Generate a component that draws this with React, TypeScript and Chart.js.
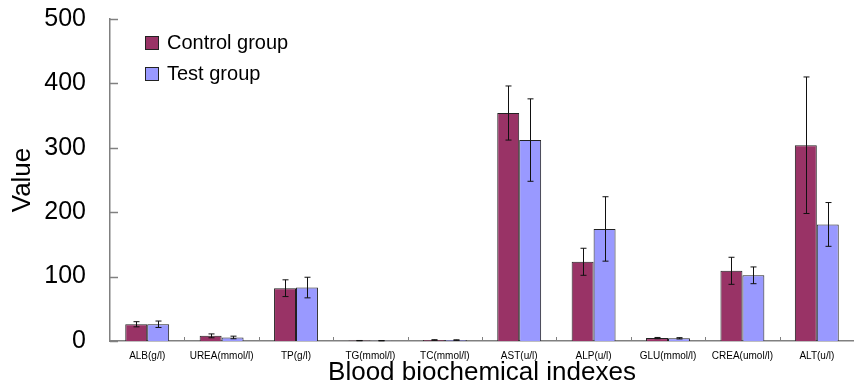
import React, { useEffect, useRef } from "react";
import { Chart, registerables } from "chart.js";

Chart.register(...registerables);

const categories = [
  "ALB(g/l)",
  "UREA(mmol/l)",
  "TP(g/l)",
  "TG(mmol/l)",
  "TC(mmol/l)",
  "AST(u/l)",
  "ALP(u/l)",
  "GLU(mmol/l)",
  "CREA(umol/l)",
  "ALT(u/l)",
];
const controlValues = [26, 8, 82, 0.6, 1.5, 354, 123, 4.5, 109, 304];
const controlErrors = [4, 3, 13, 0.2, 0.5, 42, 21, 1, 21, 106];
const testValues = [26, 5.5, 83, 0.5, 1.4, 312, 174, 4.2, 102, 181];
const testErrors = [5, 2, 16, 0.2, 0.4, 64, 50, 1, 13, 34];
const yTicks = [0, 100, 200, 300, 400, 500];

const FONT = "'Liberation Sans', Arial, sans-serif";
const errorsByDataset = [controlErrors, testErrors];

const errorBarPlugin = {
  id: "errorBars",
  afterDatasetsDraw(chart: any) {
    const ctx = chart.ctx;
    const y = chart.scales.y;
    ctx.save();
    ctx.strokeStyle = "#111";
    ctx.lineWidth = 1;
    chart.data.datasets.forEach((ds: any, di: number) => {
      const meta = chart.getDatasetMeta(di);
      const errs = errorsByDataset[di];
      meta.data.forEach((bar: any, i: number) => {
        const v = ds.data[i];
        const e = errs[i];
        const top = y.getPixelForValue(v + e);
        const bot = y.getPixelForValue(Math.max(0, v - e));
        const x = Math.round(bar.x) + 0.5;
        ctx.beginPath();
        ctx.moveTo(x, top);
        ctx.lineTo(x, bot);
        ctx.moveTo(x - 3, top);
        ctx.lineTo(x + 3, top);
        ctx.moveTo(x - 3, bot);
        ctx.lineTo(x + 3, bot);
        ctx.stroke();
      });
    });
    ctx.restore();
  },
};

const innerTicksPlugin = {
  id: "innerTicks",
  afterDraw(chart: any) {
    const ctx = chart.ctx;
    const y = chart.scales.y;
    const x = chart.scales.x;
    const area = chart.chartArea;
    ctx.save();
    ctx.strokeStyle = "#808080";
    ctx.lineWidth = 1.5;
    yTicks.forEach((t) => {
      const py = Math.round(y.getPixelForValue(t)) + 0.5;
      ctx.beginPath();
      ctx.moveTo(area.left, py);
      ctx.lineTo(area.left + 8, py);
      ctx.stroke();
    });
    ctx.lineWidth = 1;
    for (let i = 0; i < categories.length - 1; i++) {
      const px =
        Math.round((x.getPixelForValue(i) + x.getPixelForValue(i + 1)) / 2) + 0.5;
      ctx.beginPath();
      ctx.moveTo(px, area.bottom);
      ctx.lineTo(px, area.bottom - 4);
      ctx.stroke();
    }
    ctx.restore();
  },
};

const innerLegendPlugin = {
  id: "innerLegend",
  afterDraw(chart: any) {
    const ctx = chart.ctx;
    const area = chart.chartArea;
    ctx.save();
    ctx.font = `20px ${FONT}`;
    ctx.textBaseline = "middle";
    chart.data.datasets.forEach((ds: any, i: number) => {
      const bx = area.left + 35;
      const cy = area.top + 24 + i * 31;
      ctx.fillStyle = ds.backgroundColor;
      ctx.fillRect(bx, cy - 7, 14, 14);
      ctx.strokeStyle = "#222";
      ctx.lineWidth = 1;
      ctx.strokeRect(bx + 0.5, cy - 6.5, 13, 13);
      ctx.fillStyle = "#000";
      ctx.fillText(ds.label, bx + 22, cy);
    });
    ctx.restore();
  },
};

export default function App() {
  const ref = useRef<HTMLCanvasElement>(null);
  useEffect(() => {
    document.body.style.margin = "0";
    const chart = new Chart(ref.current!, {
      type: "bar",
      data: {
        labels: categories,
        datasets: [
          {
            label: "Control group",
            data: controlValues,
            backgroundColor: "#993366",
            borderColor: "#222",
            borderWidth: 1,
            categoryPercentage: 0.59,
            barPercentage: 1,
          },
          {
            label: "Test group",
            data: testValues,
            backgroundColor: "#9999ff",
            borderColor: "#222",
            borderWidth: 1,
            categoryPercentage: 0.59,
            barPercentage: 1,
          },
        ],
      },
      options: {
        responsive: false,
        animation: false,
        layout: { padding: { top: 19, right: 0, left: 0, bottom: 0 } },
        plugins: {
          legend: { display: false },
          tooltip: { enabled: false },
        },
        scales: {
          x: {
            grid: { display: false, drawTicks: false },
            border: { display: true, color: "#808080", width: 1.5 },
            ticks: {
              font: { family: FONT, size: 10 },
              color: "#000",
              padding: 9,
              maxRotation: 0,
              autoSkip: false,
            },
            title: {
              display: true,
              text: "Blood biochemical indexes",
              font: { family: FONT, size: 26, lineHeight: 1 },
              color: "#000",
              padding: { top: 0, bottom: 0 },
            },
            afterFit(scale: any) {
              scale.height = 45;
              scale.paddingLeft = 0;
              scale.paddingRight = 0;
            },
          },
          y: {
            min: 0,
            max: 500,
            ticks: {
              stepSize: 100,
              font: { family: FONT, size: 25 },
              color: "#000",
              padding: 24,
            },
            grid: { display: false, drawTicks: false },
            border: { display: true, color: "#808080", width: 1.5 },
            title: {
              display: true,
              text: "Value",
              font: { family: FONT, size: 26, lineHeight: 1.2 },
              color: "#000",
              padding: { top: 7, bottom: 4 },
            },
            afterFit(scale: any) {
              scale.width = 110;
              scale.paddingTop = 0;
              scale.paddingBottom = 0;
            },
          },
        },
      },
      plugins: [errorBarPlugin, innerTicksPlugin, innerLegendPlugin],
    });
    return () => chart.destroy();
  }, []);
  return (
    <div style={{ background: "#fff", width: 854, height: 386 }}>
      <canvas ref={ref} width={854} height={386} />
    </div>
  );
}
